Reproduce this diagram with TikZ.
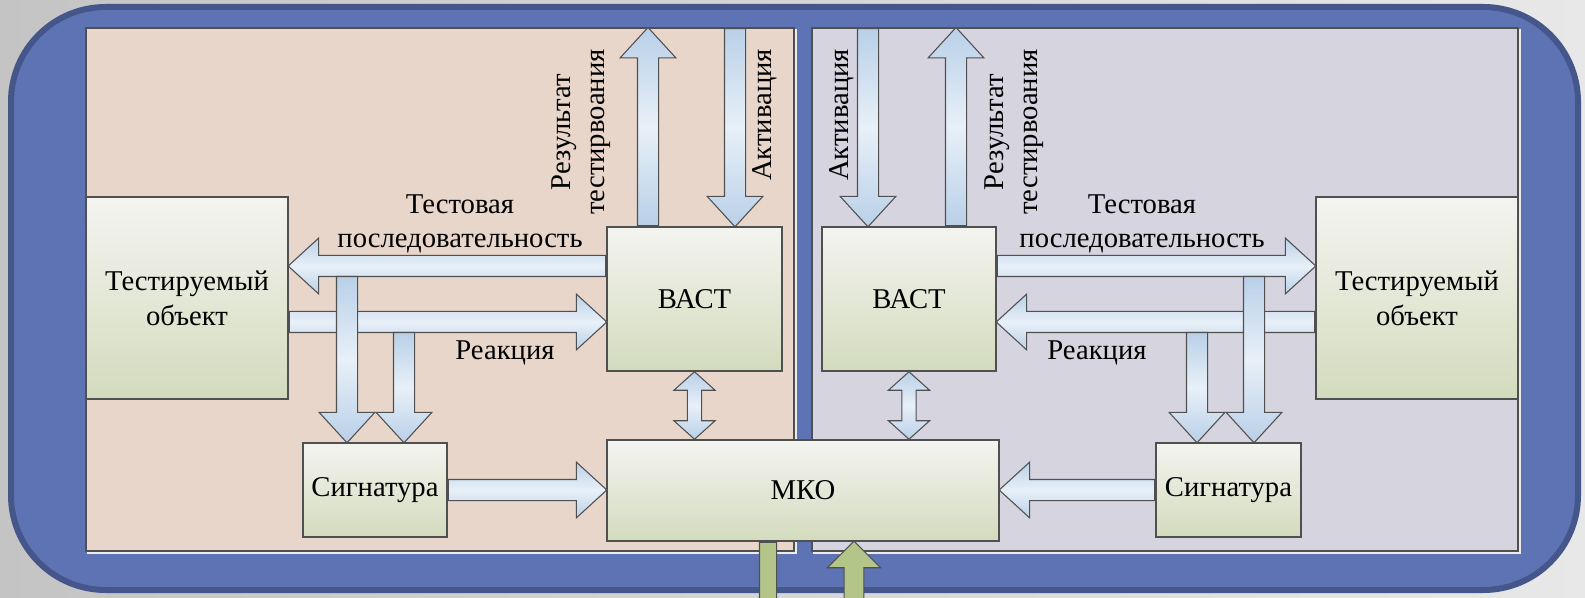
\documentclass[tikz,border=0pt]{standalone}
\usepackage{fontspec}
\setmainfont{Liberation Serif}
\usetikzlibrary{shapes.arrows,calc}

\definecolor{bgleft}{HTML}{C4C4C4}
\definecolor{bgright}{HTML}{E8E8E8}
\definecolor{frameblue}{HTML}{5E73B3}
\definecolor{framedark}{HTML}{44568A}
\definecolor{peach}{HTML}{E9D6CA}
\definecolor{lilac}{HTML}{D6D4DF}
\definecolor{boxtop}{HTML}{F4F4F0}
\definecolor{boxbot}{HTML}{D3DBBD}
\definecolor{arrblue}{HTML}{B9D0E8}
\definecolor{arrlight}{HTML}{E8F0F8}
\definecolor{arrgreen}{HTML}{B4C58A}
\definecolor{edgegray}{HTML}{505050}

\tikzset{
  block/.style={draw=edgegray, line width=1.1pt, top color=boxtop, bottom color=boxbot, align=center, inner sep=0pt},
  barrow/.style={single arrow, draw=edgegray, line width=0.8pt, inner xsep=0pt, inner ysep=7.5pt,
    single arrow head extend=13pt, single arrow tip angle=85,
    top color=arrblue, bottom color=arrblue, middle color=arrlight},
  dbarrow/.style={double arrow, draw=edgegray, line width=0.8pt, inner xsep=0pt, inner ysep=5pt,
    double arrow head extend=10pt, double arrow tip angle=96,
    top color=arrblue, bottom color=arrblue, middle color=arrlight},
  garrow/.style={barrow, top color=arrgreen, bottom color=arrgreen, middle color=arrgreen},
  vlabel/.style={rotate=90, align=center, inner sep=0pt},
  hlabel/.style={align=center, inner sep=0pt}
}

% block arrow from #2 (tail) to #3 (tip)
\newcommand\blockarr[3][barrow]{%
  \path let \p1=(#2), \p2=(#3),
    \n1={veclen(\x2-\x1,\y2-\y1)}, \n2={atan2(\y2-\y1,\x2-\x1)} in
    node[#1, minimum height=\n1, rotate=\n2, anchor=tail] at (#2) {};}
% two-headed block arrow between #2 and #3
\newcommand\dblockarr[3][dbarrow]{%
  \path let \p1=(#2), \p2=(#3),
    \n1={veclen(\x2-\x1,\y2-\y1)}, \n2={atan2(\y2-\y1,\x2-\x1)} in
    node[#1, minimum height=\n1, rotate=\n2] at ($(#2)!0.5!(#3)$) {};}

\begin{document}
\begin{tikzpicture}[x=0.75pt,y=-0.75pt,font=\fontsize{21.5}{26}\selectfont]
\useasboundingbox (0,0) rectangle (1585,598);
\clip (0,0) rectangle (1585,598);
% background, frame and panels
\shade[left color=bgleft, right color=bgright] (0,0) rectangle (1585,598);
\draw[framedark, fill=frameblue, line width=4.5pt, rounded corners=71pt] (11,7) rectangle (1578,590);
\draw[white!85!gray, line width=1.5pt] (796,29) -- (796,553) -- (87,553);
\draw[white!85!gray, line width=1.5pt] (1520,29) -- (1520,553) -- (813,553);
\draw[edgegray, line width=0.8pt, fill=peach] (86,28) rectangle (794,551);
\draw[edgegray, line width=0.8pt, fill=lilac] (812,28) rectangle (1518,551);

% blocks
\node[block, minimum width=151.5pt, minimum height=151.5pt] (objL) at (187,298) {Тестируемый\\объект};
\node[block, minimum width=131.25pt, minimum height=108pt] (vastL) at (694.5,299) {ВАСТ};
\node[block, minimum width=108pt, minimum height=70.5pt] (sigL) at (375,490) {Сигнатура};
\node[block, minimum width=130.5pt, minimum height=108pt] (vastR) at (909,299) {ВАСТ};
\node[block, minimum width=151.5pt, minimum height=151.5pt] (objR) at (1417,298) {Тестируемый\\объект};
\node[block, minimum width=108.75pt, minimum height=70.5pt] (sigR) at (1228.5,490) {Сигнатура};
\node[block, minimum width=294pt, minimum height=75.75pt] (mko) at (803,490.5) {МКО};

% free ends and levels
\coordinate (yTs) at (0,266);
\coordinate (yRe) at (0,322);
\coordinate (dL1) at (347,276);
\coordinate (dL2) at (404,332);
\coordinate (resL) at (648,28);
\coordinate (actL) at (735,28);
\coordinate (actR) at (868,28);
\coordinate (resR) at (956,28);
\coordinate (dR1) at (1254,276);
\coordinate (dR2) at (1197,332);
\coordinate (gOut) at (768,660);
\coordinate (gIn) at (854,660);

% left half
\blockarr{vastL.west |- yTs}{objL.east |- yTs}
\blockarr{objL.east |- yRe}{vastL.west |- yRe}
\blockarr{dL1}{sigL.north -| dL1}
\blockarr{dL2}{sigL.north -| dL2}
\blockarr{vastL.north -| resL}{resL}
\blockarr{actL}{vastL.north -| actL}
\dblockarr{vastL.south}{mko.north -| vastL.south}
\blockarr{sigL.east}{mko.west |- sigL.east}

% right half
\blockarr{vastR.east |- yTs}{objR.west |- yTs}
\blockarr{objR.west |- yRe}{vastR.east |- yRe}
\blockarr{dR1}{sigR.north -| dR1}
\blockarr{dR2}{sigR.north -| dR2}
\blockarr{vastR.north -| resR}{resR}
\blockarr{actR}{vastR.north -| actR}
\dblockarr{vastR.south}{mko.north -| vastR.south}
\blockarr{sigR.west}{mko.east |- sigR.west}

% in and out of MKO
\blockarr[garrow, inner ysep=6pt]{mko.south -| gOut}{gOut}
\blockarr[garrow, inner ysep=7pt, single arrow head extend=12.5pt, single arrow tip angle=90]{gIn}{mko.south -| gIn}

% labels
\node[hlabel] (tsLa) at (460,224) {Тестовая\\последовательность};
\node[hlabel] (reLa) at (505,353) {Реакция};
\node[vlabel] (resLa) at (581,132) {Результат\\тестирвоания};
\node[vlabel] (actLa) at (765,115) {Активация};
\node[hlabel] (tsRa) at (1142,224) {Тестовая\\последовательность};
\node[hlabel] (reRa) at (1097,353) {Реакция};
\node[vlabel] (resRa) at (1014,132) {Результат\\тестирвоания};
\node[vlabel] (actRa) at (842,115) {Активация};
\end{tikzpicture}
\end{document}
